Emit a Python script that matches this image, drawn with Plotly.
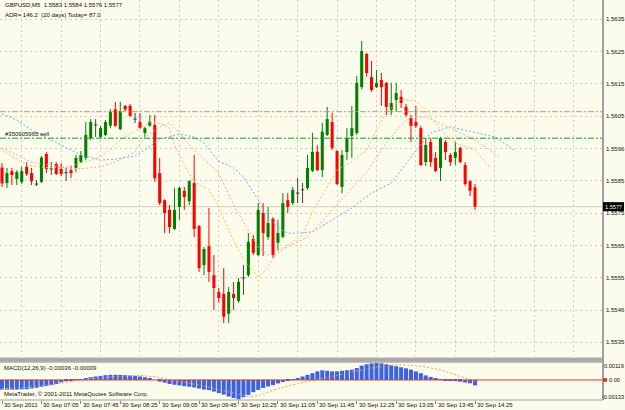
import plotly.graph_objects as go

# ---------------- data ----------------
bar_index = list(range(97))
opens = [1.55891, 1.55843, 1.55880, 1.55856, 1.55846, 1.55893, 1.55874, 1.55840, 1.55847, 1.55933,
         1.55887, 1.55902, 1.55887, 1.55875, 1.55883, 1.55890, 1.55909, 1.55921, 1.55982, 1.56023,
         1.55986, 1.55992, 1.56021, 1.56071, 1.56010, 1.56082, 1.56082, 1.56041, 1.56032, 1.55998,
         1.56021, 1.56023, 1.55874, 1.55790, 1.55760, 1.55701, 1.55769, 1.55819, 1.55787, 1.55843,
         1.55710, 1.55589, 1.55648, 1.55558, 1.55506, 1.55500, 1.55438, 1.55500, 1.55478, 1.55549,
         1.55558, 1.55670, 1.55620, 1.55750, 1.55676, 1.55732, 1.55658, 1.55676, 1.55790, 1.55781,
         1.55812, 1.55822, 1.55828, 1.55881, 1.55940, 1.55883, 1.55992, 1.56032, 1.55942, 1.55831,
         1.55939, 1.55989, 1.55998, 1.56140, 1.56243, 1.56171, 1.56140, 1.56162, 1.56153, 1.56069,
         1.56100, 1.56110, 1.56079, 1.56044, 1.56032, 1.56013, 1.55908, 1.55970, 1.55921, 1.55890,
         1.55970, 1.55930, 1.55921, 1.55952, 1.55899, 1.55849, 1.55830]
highs = [1.55905, 1.55890, 1.55890, 1.55883, 1.55893, 1.55908, 1.55890, 1.55852, 1.55927, 1.55939,
         1.55908, 1.55908, 1.55905, 1.55890, 1.55896, 1.55930, 1.55942, 1.56032, 1.56041, 1.56041,
         1.56020, 1.56038, 1.56072, 1.56094, 1.56095, 1.56085, 1.56088, 1.56060, 1.56060, 1.56017,
         1.56054, 1.56054, 1.55921, 1.55793, 1.55775, 1.55828, 1.55831, 1.55831, 1.55852, 1.55930,
         1.55713, 1.55645, 1.55766, 1.55620, 1.55518, 1.55580, 1.55521, 1.55537, 1.55549, 1.55589,
         1.55688, 1.55682, 1.55781, 1.55781, 1.55769, 1.55738, 1.55729, 1.55812, 1.55812, 1.55831,
         1.55859, 1.55843, 1.55930, 1.55999, 1.55960, 1.56029, 1.56079, 1.56061, 1.55945, 1.55945,
         1.56013, 1.56082, 1.56174, 1.56283, 1.56246, 1.56221, 1.56193, 1.56184, 1.56156, 1.56153,
         1.56153, 1.56131, 1.56088, 1.56054, 1.56082, 1.56020, 1.55982, 1.55982, 1.55939, 1.55986,
         1.55976, 1.55936, 1.55970, 1.55955, 1.55908, 1.55852, 1.55840]
lows = [1.55831, 1.55828, 1.55837, 1.55837, 1.55840, 1.55865, 1.55837, 1.55834, 1.55843, 1.55874,
        1.55868, 1.55868, 1.55865, 1.55849, 1.55859, 1.55877, 1.55905, 1.55914, 1.55976, 1.55986,
        1.55982, 1.55989, 1.56013, 1.56017, 1.56007, 1.56066, 1.56048, 1.56029, 1.56010, 1.55986,
        1.56017, 1.55847, 1.55775, 1.55688, 1.55688, 1.55698, 1.55729, 1.55760, 1.55775, 1.55676,
        1.55568, 1.55558, 1.55537, 1.55450, 1.55472, 1.55410, 1.55410, 1.55450, 1.55472, 1.55497,
        1.55552, 1.55620, 1.55617, 1.55617, 1.55667, 1.55611, 1.55636, 1.55673, 1.55750, 1.55775,
        1.55781, 1.55781, 1.55822, 1.55877, 1.55880, 1.55862, 1.55989, 1.55945, 1.55837, 1.55811,
        1.55914, 1.55921, 1.55992, 1.56133, 1.56172, 1.56125, 1.56137, 1.56082, 1.56054, 1.56054,
        1.56063, 1.56075, 1.56048, 1.55970, 1.56013, 1.55896, 1.55896, 1.55893, 1.55877, 1.55849,
        1.55914, 1.55896, 1.55899, 1.55905, 1.55834, 1.55803, 1.55760]
closes = [1.55842, 1.55874, 1.55868, 1.55877, 1.55880, 1.55871, 1.55849, 1.55840, 1.55922, 1.55887,
          1.55887, 1.55871, 1.55871, 1.55875, 1.55874, 1.55921, 1.55930, 1.55992, 1.56032, 1.56023,
          1.56013, 1.56032, 1.56064, 1.56020, 1.56066, 1.56071, 1.56051, 1.56041, 1.56013, 1.56013,
          1.56033, 1.55858, 1.55781, 1.55750, 1.55707, 1.55760, 1.55828, 1.55800, 1.55849, 1.55701,
          1.55580, 1.55639, 1.55568, 1.55518, 1.55487, 1.55429, 1.55506, 1.55487, 1.55537, 1.55549,
          1.55661, 1.55627, 1.55760, 1.55688, 1.55719, 1.55620, 1.55688, 1.55781, 1.55769, 1.55822,
          1.55812, 1.55822, 1.55890, 1.55940, 1.55883, 1.56002, 1.56041, 1.55952, 1.55840, 1.55930,
          1.55982, 1.56013, 1.56153, 1.56252, 1.56184, 1.56131, 1.56153, 1.56140, 1.56079, 1.56091,
          1.56122, 1.56091, 1.56054, 1.56020, 1.56020, 1.55899, 1.55961, 1.55908, 1.55880, 1.55982,
          1.55939, 1.55908, 1.55939, 1.55908, 1.55840, 1.55819, 1.55770]

# Alligator-like shifted averages
blue_x = [0, 3, 6, 10, 13, 16, 20, 23, 27, 29, 32, 36, 39, 41, 44, 47, 49, 52, 53, 56, 58, 60, 63,
          67, 71, 75, 79, 83, 87, 91, 96, 100, 104]
blue_y = [1.56057, 1.56038, 1.56007, 1.55976, 1.55952, 1.55930, 1.55914, 1.55917, 1.55927, 1.55945,
          1.55979, 1.55995, 1.55986, 1.55967, 1.55911, 1.55890, 1.55862, 1.55791, 1.55760, 1.55704,
          1.55688, 1.55688, 1.55692, 1.55729, 1.55766, 1.55812, 1.55843, 1.55924, 1.55998, 1.56017,
          1.56001, 1.55986, 1.55945]
pink_x = [0, 6, 13, 16, 20, 23, 27, 29, 32, 34, 36, 38, 40, 44, 47, 50, 52, 54, 58, 62, 67, 71, 74,
          78, 81, 83, 86, 91, 96, 101]
pink_y = [1.55952, 1.55908, 1.55890, 1.55887, 1.55893, 1.55908, 1.55939, 1.55986, 1.56017, 1.56029,
          1.55998, 1.55961, 1.55930, 1.55874, 1.55775, 1.55698, 1.55645, 1.55620, 1.55645, 1.55676,
          1.55760, 1.55828, 1.55877, 1.55967, 1.56023, 1.56048, 1.56048, 1.56013, 1.55976, 1.55925]
orange_x = [0, 4, 6, 10, 13, 16, 20, 22, 25, 28, 30, 32, 34, 35, 37, 39, 42, 44, 46, 49, 52, 53, 56,
            58, 61, 63, 65, 68, 71, 74, 76, 78, 81, 84, 86, 89, 92, 96, 99]
orange_y = [1.55945, 1.55908, 1.55896, 1.55890, 1.55893, 1.55905, 1.55924, 1.55948, 1.55986, 1.56013,
            1.56029, 1.56029, 1.56013, 1.55961, 1.55899, 1.55846, 1.55822, 1.55769, 1.55698, 1.55605,
            1.55555, 1.55564, 1.55627, 1.55651, 1.55682, 1.55753, 1.55806, 1.55883, 1.55911, 1.55945,
            1.56007, 1.56063, 1.56103, 1.56097, 1.56069, 1.56007, 1.55967, 1.55945, 1.55893]

macd_hist = [-0.00064, -0.00064, -0.00064, -0.00064, -0.00062, -0.00062, -0.00057, -0.00052, -0.00045, -0.00041,
             -0.00034, -0.00027, -0.00016, -0.00009, -0.00005, 0.00001, 0.00005, 0.00011, 0.00018, 0.00023,
             0.00027, 0.00032, 0.00034, 0.00034, 0.00034, 0.00032, 0.00030, 0.00027, 0.00023, 0.00018,
             0.00009, 0.00000, -0.00011, -0.00018, -0.00027, -0.00032, -0.00036, -0.00041, -0.00045, -0.00050,
             -0.00057, -0.00064, -0.00068, -0.00077, -0.00087, -0.00097, -0.00110, -0.00120, -0.00128, -0.00115,
             -0.00099, -0.00081, -0.00066, -0.00053, -0.00043, -0.00034, -0.00023, -0.00014, -0.00005, 0.00005,
             0.00011, 0.00023, 0.00034, 0.00045, 0.00057, 0.00064, 0.00061, 0.00057, 0.00057, 0.00061,
             0.00064, 0.00068, 0.00079, 0.00095, 0.00104, 0.00110, 0.00112, 0.00110, 0.00104, 0.00098,
             0.00091, 0.00084, 0.00077, 0.00068, 0.00057, 0.00045, 0.00030, 0.00020, 0.00008, 0.00002,
             -0.00002, -0.00005, -0.00008, -0.00012, -0.00017, -0.00022, -0.00036]
signal_x = [0, 5, 10, 16, 22, 28, 32, 34, 40, 47, 50, 52, 55, 58, 62, 64, 68, 72, 76, 80, 83, 86, 89,
            92, 94, 96]
signal_y = [-0.00058, -0.00050, -0.00032, 0.0, 0.00020, 0.00030, 0.00018, 0.0, -0.00033, -0.00090,
            -0.00110, -0.00105, -0.00068, -0.00040, -0.00011, 0.0, 0.00034, 0.00060, 0.00085, 0.00100,
            0.00098, 0.00086, 0.00067, 0.00035, 0.00012, -0.00009]

time_label_bars = [0, 8, 16, 24, 32, 40, 48, 56, 64, 72, 80, 88, 96]
time_labels = ["30 Sep 2011", "30 Sep 07:05", "30 Sep 07:45", "30 Sep 08:25", "30 Sep 09:05",
               "30 Sep 09:45", "30 Sep 10:25", "30 Sep 11:05", "30 Sep 11:45", "30 Sep 12:25",
               "30 Sep 13:05", "30 Sep 13:45", "30 Sep 14:25"]
grid_bars = [4, 12, 20, 28, 36, 44, 52, 60, 68, 76, 84, 92, 100, 108, 116]
price_ticks = [1.5635, 1.5625, 1.5615, 1.5605, 1.5595, 1.5585, 1.5575, 1.5565, 1.5555, 1.5545, 1.5535]
price_tick_text = ["1.5635", "1.5625", "1.5615", "1.5605", "1.5596", "1.5585", "1.5575", "1.5565",
                   "1.5555", "1.5546", "1.5535"]
sl_level = 1.56064
order_level = 1.55982
bid_price = 1.5577
macd_max, macd_min = 0.00119, -0.00133

# ---------------- style / geometry ----------------
W, H = 625, 410
BG = "#fcfcec"
GRID = "#cfcdbd"
FONT = "Liberation Sans, Arial, sans-serif"
BULL, BEAR, DOJI = "#008000", "#ff0000", "#404040"
PLOT_RIGHT = 602          # px, right edge of chart area
MAIN_BOTTOM = 356         # px
MACD_TOP, MACD_BOTTOM = 362, 400
P_HI, P_LO = 1.564098, 1.553076
X_LO = -0.41
X_HI = X_LO + PLOT_RIGHT / 4.927


def px(x):
    return x / W


def py(y):
    return 1 - y / H


fig = go.Figure()

# candle bodies
body_base, body_len, body_col = [], [], []
for o, c in zip(opens, closes):
    body_base.append(min(o, c))
    body_len.append(abs(c - o))
    body_col.append(BULL if c > o else (BEAR if c < o else DOJI))
fig.add_trace(go.Bar(x=bar_index, y=body_len, base=body_base, width=0.62,
                     marker=dict(color=body_col, line=dict(width=0)), hoverinfo="skip"))

# wicks
groups = {BULL: ([], []), BEAR: ([], []), DOJI: ([], [])}
for i, o, h, l, c in zip(bar_index, opens, highs, lows, closes):
    col = BULL if c > o else (BEAR if c < o else DOJI)
    xs, ys = groups[col]
    xs += [i, i, None]
    ys += [l, h, None]
    if col == DOJI:
        xs += [i - 0.35, i + 0.35, None]
        ys += [o, o, None]
for col, (xs, ys) in groups.items():
    fig.add_trace(go.Scatter(x=xs, y=ys, mode="lines", line=dict(color=col, width=1),
                             hoverinfo="skip"))

# moving averages
for xs, ys, col in [(blue_x, blue_y, "#6cacf0"), (pink_x, pink_y, "#f6a89a"),
                    (orange_x, orange_y, "#fbbd55")]:
    fig.add_trace(go.Scatter(x=xs, y=ys, mode="lines",
                             line=dict(color=col, width=1, dash="2px,2px"), hoverinfo="skip"))

# MACD
fig.add_trace(go.Bar(x=bar_index, y=macd_hist, width=0.82, xaxis="x2", yaxis="y2",
                     marker=dict(color="#3c62e4", line=dict(width=0)), hoverinfo="skip"))
fig.add_trace(go.Scatter(x=signal_x, y=signal_y, xaxis="x2", yaxis="y2", mode="lines",
                         line=dict(color="#f59a60", width=1, dash="2px,2px"), hoverinfo="skip"))

shapes = []
# order / stop lines
shapes.append(dict(type="line", xref="x domain", yref="y", x0=0, x1=1, y0=sl_level, y1=sl_level,
                   line=dict(color="#f4845a", width=1, dash="6px,2px,2px,2px")))
shapes.append(dict(type="line", xref="x domain", yref="y", x0=0, x1=1, y0=order_level, y1=order_level,
                   line=dict(color="#1f9a1f", width=1, dash="6px,2px,2px,2px")))
# bid line
shapes.append(dict(type="line", xref="x domain", yref="y", x0=0, x1=1, y0=bid_price, y1=bid_price,
                   line=dict(color="#cfcfc4", width=1), layer="below"))
# MACD zero line
shapes.append(dict(type="line", xref="x2 domain", yref="y2", x0=0, x1=1, y0=0, y1=0,
                   line=dict(color="#cc3c30", width=1)))
# separator between windows
shapes.append(dict(type="rect", xref="paper", yref="paper", x0=0, x1=px(PLOT_RIGHT + 1),
                   y0=py(361.5), y1=py(357.5), fillcolor="#a9a9a9", line=dict(width=0)))
shapes.append(dict(type="line", xref="paper", yref="paper", x0=0, x1=px(PLOT_RIGHT + 1),
                   y0=py(MACD_TOP), y1=py(MACD_TOP), line=dict(color="#8a8a8a", width=1)))
shapes.append(dict(type="line", xref="paper", yref="paper", x0=0, x1=px(PLOT_RIGHT + 1),
                   y0=py(MACD_BOTTOM), y1=py(MACD_BOTTOM), line=dict(color="#a0a0a0", width=1)))
# right axis line
shapes.append(dict(type="line", xref="paper", yref="paper", x0=px(PLOT_RIGHT + 1),
                   x1=px(PLOT_RIGHT + 1), y0=py(MACD_BOTTOM), y1=1,
                   line=dict(color="#a0a0a0", width=2)))
# bid price box
ppp = (P_HI - P_LO) / MAIN_BOTTOM
shapes.append(dict(type="rect", xref="paper", yref="y", x0=px(PLOT_RIGHT + 1), x1=px(624),
                   y0=bid_price - 4.5 * ppp, y1=bid_price + 4.5 * ppp, fillcolor="#000000",
                   line=dict(width=0)))
# red marker at MACD zero level
shapes.append(dict(type="rect", xref="paper", yref="y2", x0=px(PLOT_RIGHT + 1), x1=px(607),
                   y0=-0.00012, y1=0.00012, fillcolor="#e03020", line=dict(width=0)))

ann = []
small = dict(family=FONT, size=6, color="#101010")


def text(x, y, s, anchor="left", color="#101010", yref="paper", size=6):
    ann.append(dict(x=x, y=y, xref="paper", yref=yref, text=s, showarrow=False,
                    xanchor=anchor, yanchor="middle", borderpad=0,
                    font=dict(family=FONT, size=size, color=color)))


text(px(4), py(5), "GBPUSD,M5  1.5583 1.5584 1.5576 1.5577")
text(px(4), py(14.5), "ADR= 146.2  (20 days) Today= 87.0")
text(px(4), order_level + 4.5 * ppp, "#350905965 sell", yref="y")
text(px(3), py(368), "MACD(12,26,9) -0.00036 -0.00009")
text(px(3), py(394), "MetaTrader, © 2001-2011 MetaQuotes Software Corp.")
text(px(624.5), py(366), "0.00119", anchor="right", size=5.6)
text(px(608), 0, "0.00", yref="y2", size=5.6)
text(px(624.5), py(397), "-0.00133", anchor="right", size=5.6)
text(px(613.5), bid_price, "1.5577", anchor="center", color="#ffffff", yref="y", size=5.6)
for b, lab in zip(time_label_bars, time_labels):
    ann.append(dict(x=b, y=py(405), xref="x2", yref="paper", text=lab, showarrow=False,
                    xanchor="left", yanchor="middle", xshift=1, borderpad=0,
                    font=dict(family=FONT, size=6, color="#101010")))

fig.update_layout(
    width=W, height=H, margin=dict(l=0, r=0, t=0, b=0),
    paper_bgcolor=BG, plot_bgcolor=BG, showlegend=False, barmode="overlay",
    xaxis=dict(domain=[0, px(PLOT_RIGHT)], range=[X_LO, X_HI], tickvals=grid_bars,
               showticklabels=False, ticks="", showgrid=True, gridcolor=GRID, griddash="2px,3px",
               gridwidth=1, zeroline=False, showline=False, fixedrange=True),
    yaxis=dict(domain=[py(MAIN_BOTTOM), 1], range=[P_LO, P_HI], side="right",
               tickvals=price_ticks, ticktext=price_tick_text, ticks="", ticklabelstandoff=3,
               tickfont=small, showgrid=True, gridcolor=GRID, griddash="2px,3px", gridwidth=1,
               zeroline=False, showline=False, fixedrange=True),
    xaxis2=dict(domain=[0, px(PLOT_RIGHT)], range=[X_LO, X_HI], anchor="y2",
                tickvals=time_label_bars, showticklabels=False, ticks="outside", ticklen=3,
                tickcolor="#808080", showgrid=False, zeroline=False, showline=False),
    yaxis2=dict(domain=[py(MACD_BOTTOM), py(MACD_TOP)], range=[macd_min, macd_max],
                showticklabels=False, showgrid=False, zeroline=False, showline=False,
                anchor="x2"),
    shapes=shapes, annotations=ann,
)

fig.write_html("out.html")
